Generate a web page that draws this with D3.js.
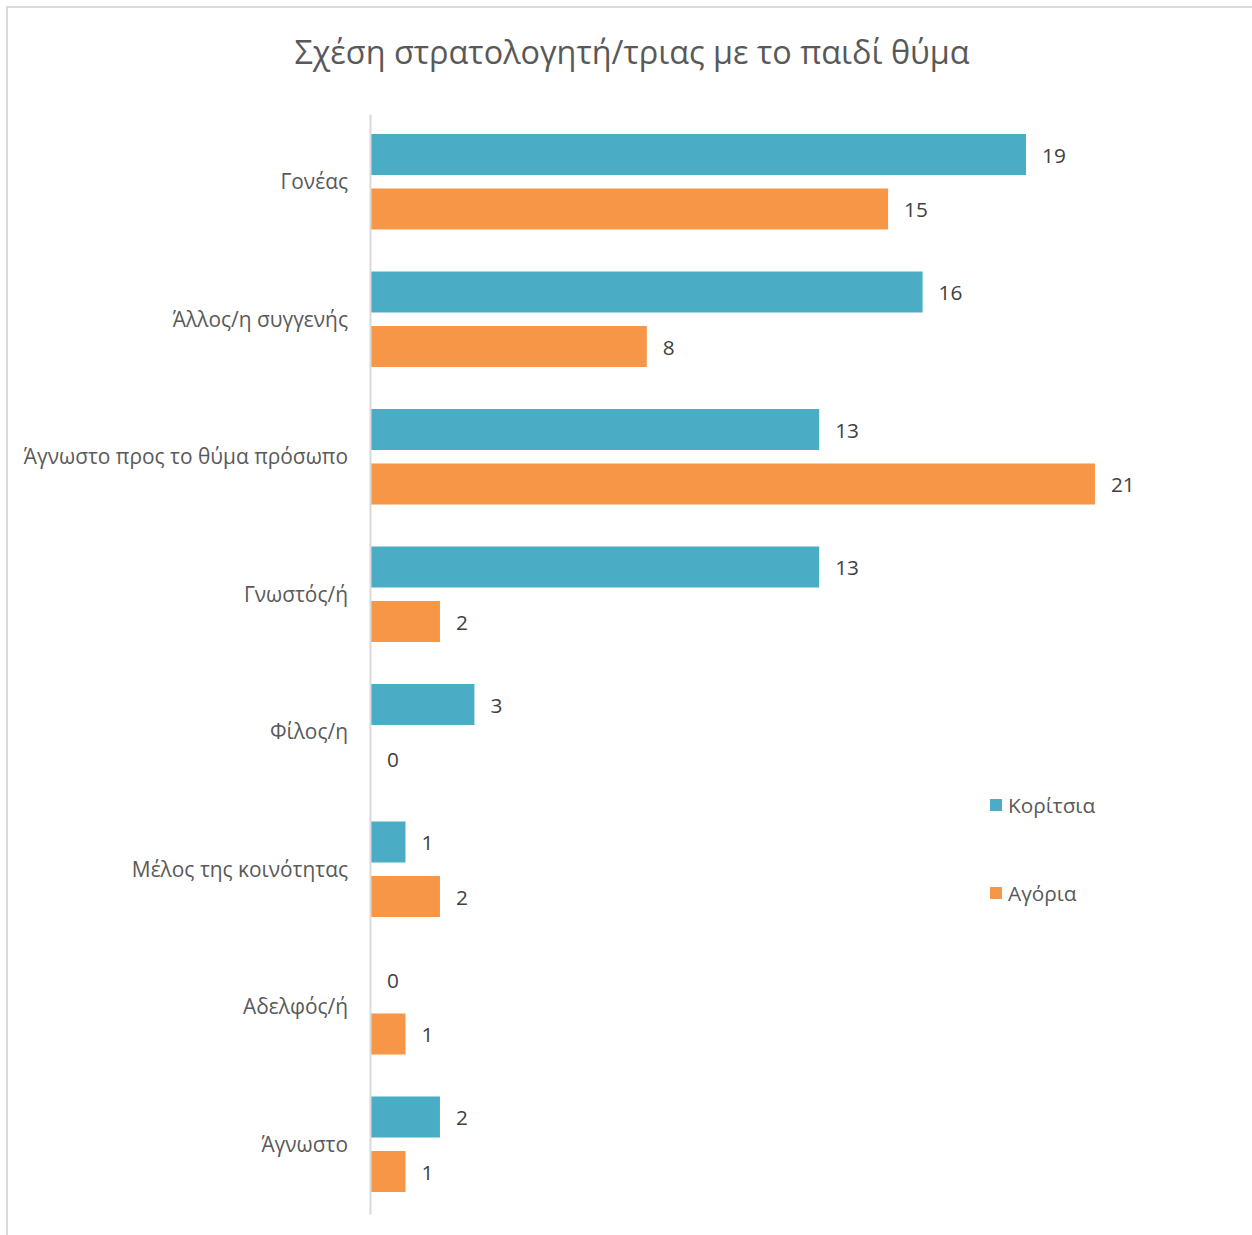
<!DOCTYPE html>
<html><head><meta charset="utf-8">
<script src="https://cdn.jsdelivr.net/npm/d3@7"></script>
<style>body{margin:0;background:#fff}svg{display:block}text{font-family:"Open Sans","Noto Sans",sans-serif}</style>
</head><body>
<script>
const categories = ["Γονέας","Άλλος/η συγγενής","Άγνωστο προς το θύμα πρόσωπο","Γνωστός/ή","Φίλος/η","Μέλος της κοινότητας","Αδελφός/ή","Άγνωστο"];
const girls = [19,16,13,13,3,1,0,2];
const boys = [15,8,21,2,0,2,1,1];
const seriesNames = ["Κορίτσια","Αγόρια"];
const colors = ["#4BACC6","#F79646"];
const title = "Σχέση στρατολογητή/τριας με το παιδί θύμα";

const W=1252,H=1235;
const svg=d3.select("body").append("svg").attr("width",W).attr("height",H);
svg.append("rect").attr("x",7).attr("y",7).attr("width",W+10).attr("height",H+10).attr("fill","#fff").attr("stroke","#d9d9d9").attr("stroke-width",2);

svg.append("text").attr("x",632).attr("y",64).attr("text-anchor","middle").attr("font-size",32.4).attr("fill","#595959").text(title);

const x0=371;
const x=d3.scaleLinear().domain([0,19]).range([x0,1026]);
const yc=d3.scaleBand().domain(categories).range([113,1213]);
const barH=41, gap=13.5;
const series=[girls,boys];
series.forEach((vals,s)=>{
  const g=svg.append("g");
  vals.forEach((v,i)=>{
    const c=yc(categories[i])+yc.bandwidth()/2;
    const top = s===0 ? c-gap/2-barH : c+gap/2;
    g.append("rect").attr("x",x(0)).attr("y",top).attr("width",x(v)-x(0)).attr("height",barH).attr("fill",colors[s]);
    g.append("text").attr("x",x(v)+16).attr("y",top+barH/2+1).attr("dy","0.35em").attr("font-size",20.8).attr("fill","#404040").text(v);
  });
});

const axis=d3.axisLeft(yc).tickSize(0).tickPadding(22);
const ag=svg.append("g").attr("transform",`translate(${x0-1},1)`).call(axis);
ag.select(".domain").attr("stroke","#d9d9d9").attr("stroke-width",2);
ag.selectAll("text").attr("font-size",20.9).attr("fill","#595959").attr("font-family","'Open Sans','Noto Sans',sans-serif");

const leg=svg.append("g");
seriesNames.forEach((n,i)=>{
  const yy=805+i*88;
  leg.append("rect").attr("x",990).attr("y",yy-6).attr("width",12).attr("height",12).attr("fill",colors[i]);
  leg.append("text").attr("x",1008).attr("y",yy+1).attr("dy","0.35em").attr("font-size",20.8).attr("fill","#595959").text(n);
});
</script>
</body></html>
